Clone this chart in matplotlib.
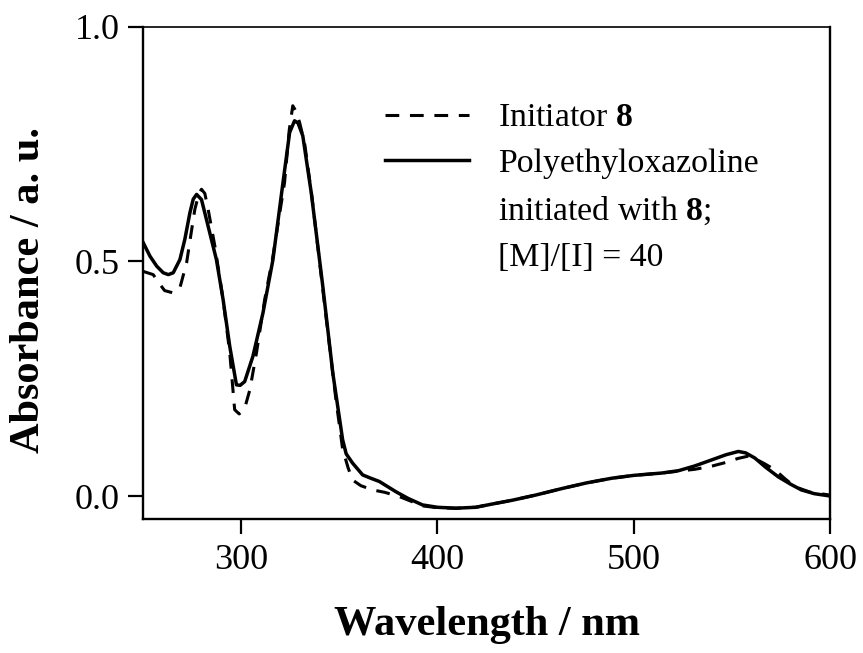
import matplotlib
matplotlib.use("Agg")
import matplotlib.pyplot as plt
from matplotlib.lines import Line2D

plt.rcParams['font.family'] = ['Liberation Serif', 'DejaVu Serif']
plt.rcParams['mathtext.fontset'] = 'custom'
plt.rcParams['mathtext.rm'] = 'Liberation Serif'
plt.rcParams['mathtext.bf'] = 'Liberation Serif:bold'

# Polyethyloxazoline initiated with 8 (solid)
wl_poly = [250, 253.6, 257, 260.3, 262.9, 265.4, 268.8, 271.3, 273.9, 275.6, 277.3,
           279.8, 282.3, 287.4, 290.8, 294.2, 297.6, 299.5, 301.8, 306.0, 311.1,
           316.2, 321.3, 324.7, 327.2, 329.0, 331.4, 335.7, 341.6, 346.7, 351.7,
           353.5, 356.8, 361.9, 366, 370.4, 378.9, 385, 392.4, 400, 409.4, 419.5,
           428, 438.1, 450, 463.5, 476, 488.9, 500, 514.3, 522.8, 531, 539.7, 547,
           553.3, 557, 561.7, 567, 573.6, 580, 585.4, 592, 600]
abs_poly = [0.541, 0.511, 0.490, 0.476, 0.472, 0.476, 0.504, 0.547, 0.604, 0.633, 0.643,
            0.632, 0.590, 0.504, 0.419, 0.319, 0.237, 0.236, 0.244, 0.298, 0.390,
            0.504, 0.668, 0.775, 0.800, 0.795, 0.768, 0.647, 0.447, 0.262, 0.120,
            0.090, 0.070, 0.045, 0.038, 0.031, 0.009, -0.005, -0.019, -0.024, -0.026, -0.024,
            -0.017, -0.009, 0.002, 0.016, 0.028, 0.038, 0.044, 0.049, 0.054, 0.064, 0.077, 0.088,
            0.095, 0.092, 0.081, 0.062, 0.041, 0.025, 0.013, 0.005, 0.0]

# Initiator 8 (dashed)
wl_init = [250, 255.2, 258, 261, 265.4, 268.8, 272.2, 274.5, 276.4, 278.5, 279.8,
           281.5, 283.2, 286.6, 290.8, 294.2, 296.7, 299, 301.8, 304.4, 307.8,
           312.0, 316.2, 322.1, 324.5, 326.3, 328, 329.8, 332.3, 336, 341.6,
           348.3, 351.7, 354.5, 356.8, 361, 367, 373, 380.5, 392.4, 400, 409.4,
           419.5, 428, 438.1, 450, 463.5, 476, 488.9, 500, 514.3, 522.8, 531.2,
           540, 548.2, 553, 558.3, 563, 567, 571.9, 577, 582, 590, 600]
abs_init = [0.479, 0.472, 0.455, 0.438, 0.433, 0.444, 0.497, 0.560, 0.611, 0.645, 0.654,
            0.645, 0.611, 0.533, 0.419, 0.305, 0.184, 0.175, 0.187, 0.226, 0.305,
            0.419, 0.511, 0.668, 0.780, 0.832, 0.820, 0.796, 0.753, 0.640, 0.440,
            0.205, 0.100, 0.060, 0.034, 0.022, 0.013, 0.008, -0.001, -0.021, -0.025, -0.026,
            -0.024, -0.017, -0.009, 0.002, 0.016, 0.028, 0.038, 0.044, 0.049, 0.053, 0.057,
            0.064, 0.073, 0.080, 0.085, 0.077, 0.068, 0.056, 0.037, 0.020, 0.008, 0.002]

x_ticks = [300, 400, 500, 600]
y_ticks = [0.0, 0.5, 1.0]
y_tick_labels = ['0.0', '0.5', '1.0']

fig = plt.figure(figsize=(8.63, 6.53), dpi=100)
ax = fig.add_axes([0.1657, 0.2052, 0.9618 - 0.1657, 0.9587 - 0.2052])

ax.plot(wl_init, abs_init, color='black', lw=2.2, dashes=(4.5, 3.5))
ax.plot(wl_poly, abs_poly, color='black', lw=2.5)

ax.set_xlim(250, 600)
ax.set_ylim(-0.049, 1.0)
ax.set_xticks(x_ticks)
ax.set_yticks(y_ticks)
ax.set_yticklabels(y_tick_labels)
ax.tick_params(axis='both', direction='out', length=11, width=1.6,
               labelsize=26, colors='black')
ax.tick_params(axis='x', pad=7)
ax.tick_params(axis='y', pad=6)

for s in ['left', 'bottom', 'right']:
    ax.spines[s].set_linewidth(1.7)
ax.spines['top'].set_linewidth(1.2)

ax.set_xlabel('Wavelength / nm', fontsize=30.5, fontweight='bold', labelpad=21)
ax.set_ylabel('Absorbance / a. u.', fontsize=30.5, fontweight='bold')
ax.yaxis.set_label_coords(-0.138, 0.466)

handles = [Line2D([], [], color='black', lw=2.2, dashes=(4.5, 3.5)),
           Line2D([], [], color='black', lw=2.5),
           Line2D([], [], color='none'),
           Line2D([], [], color='none')]
labels = [r'Initiator $\mathbf{8}$', 'Polyethyloxazoline',
          r'initiated with $\mathbf{8}$;', '[M]/[I] = 40']
ax.legend(handles, labels, loc='upper left', bbox_to_anchor=(0.352, 0.846),
          frameon=False, fontsize=24.3, handlelength=2.5, handletextpad=0.85,
          borderpad=0, borderaxespad=0, labelspacing=0.45)

fig.savefig('out.png', dpi=100)
